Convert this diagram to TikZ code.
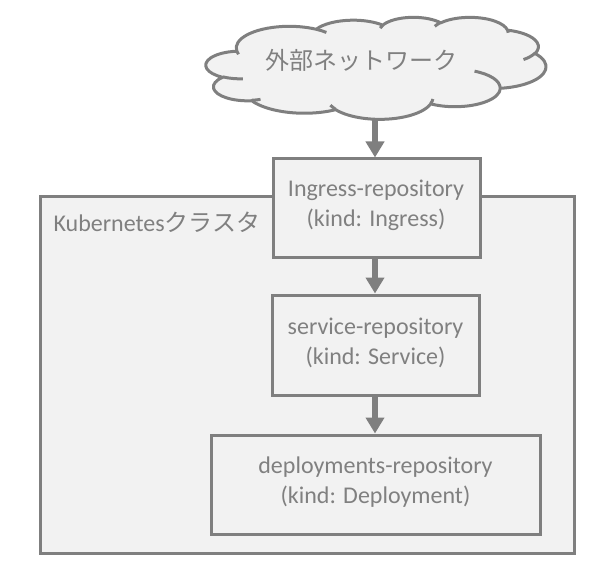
\documentclass[tikz,border=0pt]{standalone}
\usepackage{fontspec}
\setmainfont{Carlito}
\newfontfamily\jpfont{Noto Sans CJK JP}
\usetikzlibrary{arrows.meta}
\definecolor{linegray}{HTML}{7F7F7F}
\definecolor{fillgray}{HTML}{F2F2F2}
\definecolor{textgray}{HTML}{808080}
% arc of an ellipse given with a visual start angle and sweep (DrawingML style)
\newcommand\cldarc[4]{arc[start angle={atan2(#1*sin(#3),#2*cos(#3))},
  delta angle={mod(atan2(#1*sin(#3+#4),#2*cos(#3+#4))-atan2(#1*sin(#3),#2*cos(#3))+720,360)},
  x radius=#1pt, y radius=#2pt]}
\begin{document}
\begin{tikzpicture}[x=1pt,y=-1pt,
  txt/.style={text=textgray, font=\fontsize{24}{30}\selectfont},
  box/.style={draw=linegray, line width=3pt, fill=fillgray, inner sep=0pt},
  boxtext/.style={txt, align=center, inner sep=0pt},
  cluster/.style={draw=linegray, line width=3pt, fill=fillgray, inner sep=0pt},
  flow/.style={draw=linegray, line width=6pt, -{Triangle[width=18pt,length=16pt]}},
  cloudline/.style={draw=linegray, line width=3pt, line join=round}]
\useasboundingbox (0,0) rectangle (595,575);
\node[cluster, minimum width=534pt, minimum height=356pt] (cl) at (307,375) {};
\node[txt, anchor=west] (cllabel) at (50,222) {Kubernetes{\jpfont クラスタ}};
\node[box, minimum width=207pt, minimum height=98pt] (b1) at (376.5,208) {};
\node[box, minimum width=207pt, minimum height=100pt] (b2) at (375.5,345) {};
\node[box, minimum width=329pt, minimum height=99pt] (b3) at (375.5,484.5) {};
\node[boxtext] (b1t) at (376,205.5) {Ingress-repository\\(kind: Ingress)};
\node[boxtext] (b2t) at (375.5,342.5) {service-repository\\(kind: Service)};
\node[boxtext] (b3t) at (375.5,482) {deployments-repository\\(kind: Deployment)};
\coordinate (cloudbottom) at (375,110);
\draw[flow] (cloudbottom) -- (cloudbottom |- b1.north);
\draw[flow] (b1.south -| 375,0) -- (b2.north -| 375,0);
\draw[flow] (b2.south -| 375,0) -- (b3.north -| 375,0);
\begin{scope}[x=1pt,y=1pt,shift={(206pt,-17pt)},xscale=340/4320,yscale=-102/4320]
\draw[cloudline, fill=fillgray] (390,1437)
  \cldarc{675.3}{919.0}{-190.48748}{123.78053}
  \cldarc{533.3}{726.7}{-144.10238}{89.94523}
  \cldarc{436.5}{594.5}{-145.80792}{99.72302}
  \cldarc{485.7}{659.5}{-130.98607}{117.24173}
  \cldarc{533.3}{727.3}{-78.70888}{109.02692}
  \cldarc{677.5}{922.0}{-46.26725}{130.269}
  \cldarc{578.5}{786.7}{0.62502}{114.03333}
  \cldarc{675.2}{921.5}{22.4516}{115.17255}
  \cldarc{772.0}{1054.3}{66.24263}{75.71102}
  \cldarc{436.0}{591.8}{-274.94208}{146.73557}
  \cldarc{434.5}{594.5}{-246.8285}{152.51885}
  -- cycle;
\draw[cloudline]
  (469.3,2617.7) \cldarc{434.5}{594.5}{86.742}{26.4295}
  (692.8,3489.9) \cldarc{436.0}{591.8}{73.6105}{11.4475}
  (1647.8,3909.0) \cldarc{675.2}{921.5}{137.62415}{14.0811}
  (2882.7,3475.1) \cldarc{675.2}{921.5}{6.45327}{15.99835}
  (3412.9,2295.4) \cldarc{578.5}{786.7}{-70.29235}{70.91737}
  (4179.8,1535.4) \cldarc{533.3}{727.3}{30.31803}{27.7515}
  (3832.4,542.6) \cldarc{485.7}{659.5}{-13.74433}{14.8589}
  (2907.8,395.2) \cldarc{485.7}{659.5}{-149.18145}{18.19537}
  (2214.1,472.0) \cldarc{436.5}{594.5}{-163.49427}{17.68635}
  (1400.0,519.2) \cldarc{675.3}{919.0}{-66.70695}{12.31935}
  (412.7,1578.9) \cldarc{675.3}{919.0}{157.86878}{11.85393};
\end{scope}
\node[txt] (cloudtext) at (361,60) {\jpfont 外部ネットワーク};
\end{tikzpicture}
\end{document}
